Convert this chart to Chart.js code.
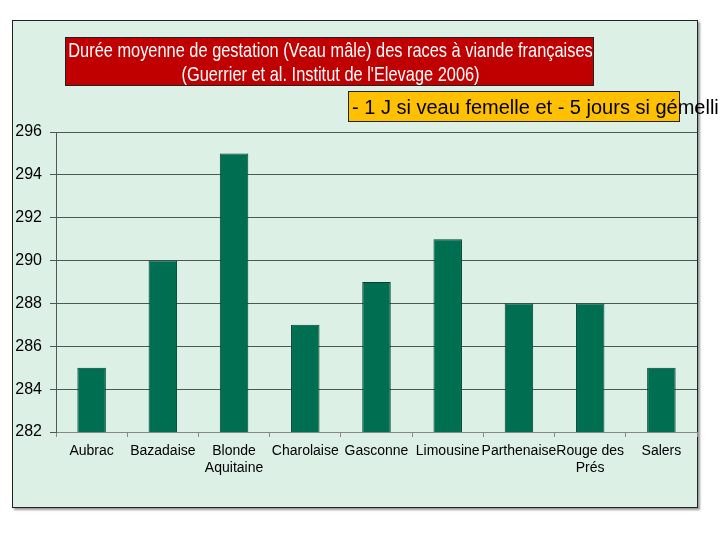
<!DOCTYPE html>
<html><head><meta charset="utf-8">
<script src="https://cdn.jsdelivr.net/npm/chart.js@4/dist/chart.umd.min.js"></script>
<style>
html,body{margin:0;padding:0;background:#fff;width:720px;height:540px;overflow:hidden;position:relative;}
#panel{position:absolute;left:12px;top:20px;width:684px;height:486px;background:#dcf0e6;border:1px solid #222;box-shadow:2px 2px 2px #999;}
#wrap{position:absolute;left:0;top:0;width:720px;height:540px;}
#title{position:absolute;left:65px;top:37px;width:529px;height:49px;background:#c00000;border:1px solid #222;box-sizing:border-box;overflow:visible;}
#titletxt{position:absolute;left:-100px;width:729px;top:0px;color:#fff;font-family:'Liberation Sans',Arial,sans-serif;font-size:21px;line-height:24px;text-align:center;white-space:nowrap;transform:scaleX(0.78);transform-origin:50% 0;}
#note{position:absolute;left:348px;top:91px;width:332px;height:31px;background:#ffc000;border:1px solid #222;box-sizing:border-box;}
#notetxt{position:absolute;left:352px;top:92px;font-family:'Liberation Sans',Arial,sans-serif;font-size:20px;line-height:30px;color:#000;white-space:nowrap;}
</style></head><body>
<div id="panel"></div>
<div id="wrap"><canvas id="c" width="720" height="540"></canvas></div>
<div id="title"><div id="titletxt">Durée moyenne de gestation (Veau mâle) des races à viande françaises<br>(Guerrier et al. Institut de l'Elevage 2006)</div></div>
<div id="note"></div>
<div id="notetxt">- 1 J si veau femelle et - 5 jours si gémelli</div>
<script>
const categories = ['Aubrac','Bazadaise',['Blonde','Aquitaine'],'Charolaise','Gasconne','Limousine','Parthenaise',['Rouge des','Prés'],'Salers'];
const gestationDays = [285,290,295,287,289,291,288,288,285];
const yMin = 282, yMax = 296, yStep = 2;

new Chart(document.getElementById('c'), {
  type: 'bar',
  data: {
    labels: categories,
    datasets: [{
      data: gestationDays,
      backgroundColor: '#006e50',
      borderColor: '#00412f',
      borderWidth: 1,
      barPercentage: 0.4,
      categoryPercentage: 1.0
    }]
  },
  options: {
    responsive: false,
    animation: false,
    layout: { padding: { left: 12, top: 132, right: 23, bottom: 48 } },
    plugins: { legend: { display: false }, tooltip: { enabled: false } },
    scales: {
      x: {
        grid: { drawOnChartArea: false, drawTicks: true, tickLength: 5, color: '#888', offset: true },
        border: { color: '#888', width: 1 },
        ticks: { color: '#000', padding: 6, font: { family: "'Liberation Sans',Arial", size: 14 }, maxRotation: 0, autoSkip: false },
        afterFit: s => { s.height = 60; }
      },
      y: {
        min: yMin, max: yMax,
        grid: { color: '#4a5a52', lineWidth: 1, tickLength: 6 },
        border: { color: '#555', width: 1 },
        ticks: { stepSize: yStep, color: '#000', padding: 8, font: { family: "'Liberation Sans',Arial", size: 16 } },
        afterFit: s => { s.width = 44; }
      }
    }
  }
});
</script>
</body></html>
